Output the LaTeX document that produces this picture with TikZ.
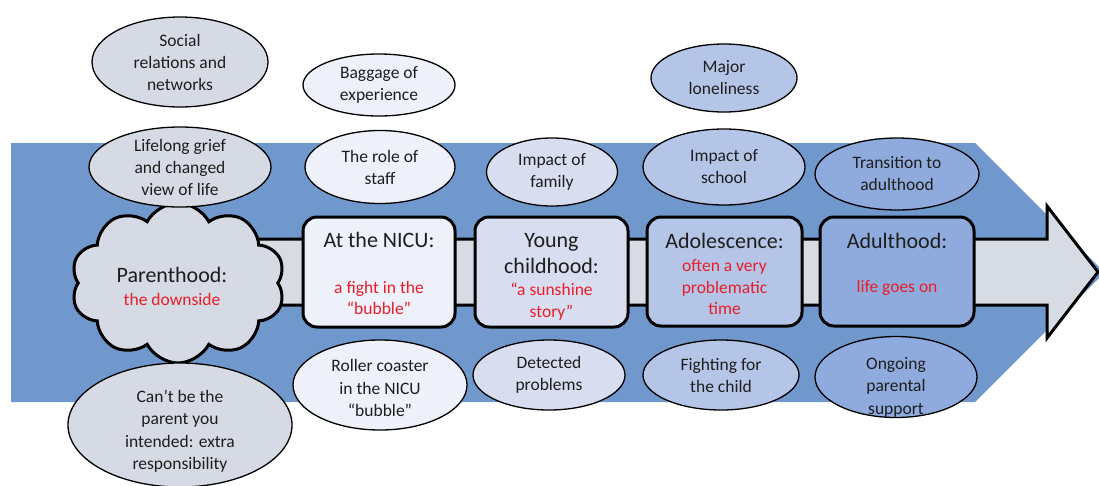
\documentclass[tikz,border=0pt]{standalone}
\usepackage{fontspec}
\setmainfont{Carlito}
\usetikzlibrary{shapes.geometric,shapes.symbols}
\definecolor{bandblue}{RGB}{112,152,204}
\definecolor{shaftgrey}{RGB}{214,219,228}
\definecolor{cgrey}{RGB}{213,218,228}
\definecolor{clight}{RGB}{238,240,250}
\definecolor{cpale}{RGB}{216,222,240}
\definecolor{cmid}{RGB}{180,197,231}
\definecolor{cdeep}{RGB}{143,171,221}
\definecolor{txt}{RGB}{30,30,30}
\definecolor{redtxt}{RGB}{232,30,40}
\tikzset{
  bubble/.style={ellipse, draw=black, line width=1.3pt, inner sep=0pt, align=center,
    text=txt, font=\fontsize{17.5}{22}\selectfont},
  bubbletext/.style={inner sep=0pt, align=center, text=txt, font=\fontsize{17.5}{22.5}\selectfont},
  stagebox/.style={draw=black, line width=3pt, rounded corners=14pt, inner sep=0pt},
  title/.style={text=txt, font=\fontsize{22}{26}\selectfont, inner sep=0pt, align=center},
  sub/.style={text=redtxt, font=\fontsize{17.5}{21.5}\selectfont, inner sep=0pt, align=center}
}
\begin{document}
\begin{tikzpicture}[x=1pt,y=-1pt]
\useasboundingbox (0,0) rectangle (1099,485);
\clip (0,0) rectangle (1099,485);
% background band
\fill[bandblue] (11,143) -- (975,143) -- (1104.5,272.5) -- (975,402) -- (11,402) -- cycle;
% inner arrow
\draw[fill=shaftgrey, line width=3pt, line join=miter] (240,239) -- (1047,239) -- (1047,206) -- (1098,272) -- (1047,338) -- (1047,305) -- (240,305) -- cycle;
% cloud
\node[cloud, cloud puffs=10, cloud puff arc=125, cloud ignores aspect, draw=black, line width=3pt,
  fill=cgrey, minimum width=214pt, minimum height=160pt, inner sep=0pt] (parent) at (178,283) {};
\node[title] (parentT) at (172,275) {Parenthood:};
\node[sub] (parentS) at (172,299) {the downside};
% stage boxes
\node[stagebox, fill=clight, minimum width=152pt, minimum height=110pt] (nicu) at (379,272) {};
\node[stagebox, fill=cpale, minimum width=153pt, minimum height=110pt] (young) at (551.5,272) {};
\node[stagebox, fill=cmid, minimum width=155pt, minimum height=109pt] (adol) at (724.5,271.5) {};
\node[stagebox, fill=cdeep, minimum width=154pt, minimum height=109pt] (adult) at (897,271.5) {};
% box texts
\node[title] (nicuT) at (379,240) {At the NICU:};
\node[sub] (nicuS) at (379,298) {a fight in the\\“bubble”};
\node[title] (youngT) at (551.5,254) {Young\\childhood:};
\node[sub] (youngS) at (551.5,301.5) {“a sunshine\\story”};
\node[title] (adolT) at (724.5,241) {Adolescence:};
\node[sub] (adolS) at (724.5,287.5) {often a very\\problematic\\time};
\node[title] (adultT) at (897,241) {Adulthood:};
\node[sub] (adultS) at (897,288) {life goes on};
% bubbles column 1
\node[bubble, fill=cgrey, minimum width=176pt, minimum height=90pt] (social) at (180,62) {Social\\relations and\\networks};
\node[bubble, fill=cgrey, minimum width=182pt, minimum height=80pt] (grief) at (180,167) {Lifelong grief\\and changed\\view of life};
\node[bubble, fill=cgrey, minimum width=224pt, minimum height=124pt] (cant) at (180,425) {};
\node[bubbletext] (cantT) at (180,431) {Can’t be the\\parent you\\intended: extra\\responsibility};
% column 2
\node[bubble, fill=clight, minimum width=152pt, minimum height=62pt] (baggage) at (379,85) {Baggage of\\experience};
\node[bubble, fill=clight, minimum width=150pt, minimum height=73pt] (staff) at (380,167) {The role of\\staff};
\node[bubble, fill=clight, minimum width=174pt, minimum height=90pt] (roller) at (380,385) {};
\node[bubbletext] (rollerT) at (380,388) {Roller coaster\\in the NICU\\“bubble”};
% column 3
\node[bubble, fill=cpale, minimum width=131pt, minimum height=68pt] (family) at (552,172) {Impact of\\family};
\node[bubble, fill=cpale, minimum width=152pt, minimum height=70pt] (detected) at (549,375) {Detected\\problems};
% column 4
\node[bubble, fill=cmid, minimum width=146pt, minimum height=68pt] (lonely) at (724,78) {Major\\loneliness};
\node[bubble, fill=cmid, minimum width=162pt, minimum height=76pt] (school) at (724,167) {Impact of\\school};
\node[bubble, fill=cmid, minimum width=156pt, minimum height=70pt] (fight) at (721,375) {Fighting for\\the child};
% column 5
\node[bubble, fill=cdeep, minimum width=164pt, minimum height=72pt] (transition) at (897,174) {Transition to\\adulthood};
\node[bubble, fill=cdeep, minimum width=162pt, minimum height=81pt] (ongoing) at (896,377) {};
\node[bubbletext] (ongoingT) at (896,387) {Ongoing\\parental\\support};
\end{tikzpicture}
\end{document}
